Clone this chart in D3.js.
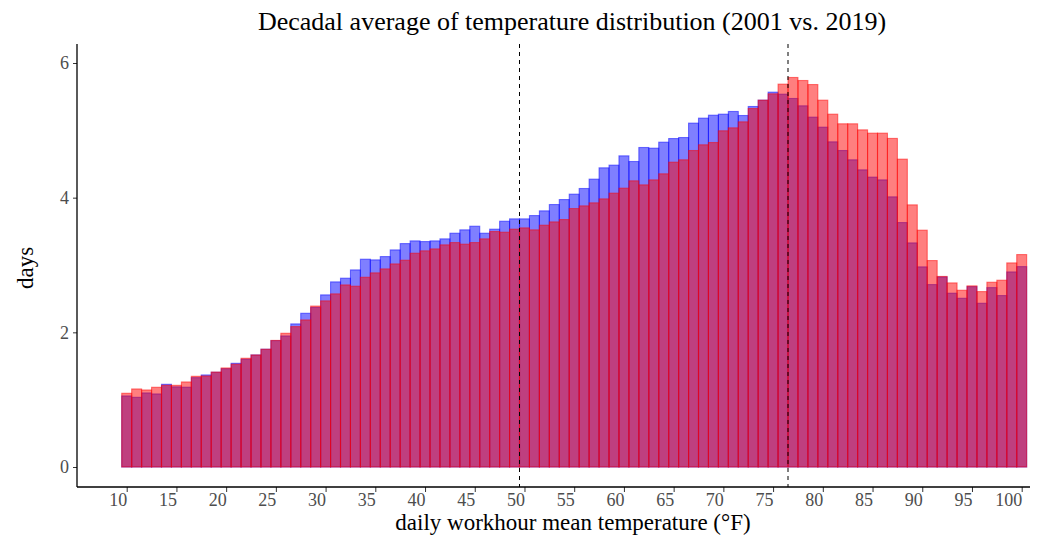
<!DOCTYPE html>
<html>
<head>
<meta charset="utf-8">
<script src="https://cdn.jsdelivr.net/npm/d3@7"></script>
<style>
  body { margin: 0; background: #fff; }
  text { font-family: "Liberation Serif", "DejaVu Serif", serif; }
</style>
</head>
<body>
<script>
// bins (daily workhour mean temperature, °F)
const temps = d3.range(10, 101);

// decadal average days per bin
const days2001 = [1.055, 1.035, 1.10, 1.085, 1.228, 1.19, 1.185, 1.327, 1.367, 1.407,
  1.46, 1.54, 1.60, 1.664, 1.749, 1.877, 1.946, 2.125, 2.283, 2.37,
  2.556, 2.749, 2.804, 2.927, 3.086, 3.076, 3.125, 3.224, 3.318, 3.358,
  3.348, 3.358, 3.388, 3.472, 3.522, 3.576, 3.472, 3.532, 3.65, 3.685,
  3.685, 3.734, 3.804, 3.898, 3.972, 4.052, 4.136, 4.275, 4.443, 4.483,
  4.621, 4.537, 4.745, 4.735, 4.824, 4.878, 4.893, 5.107, 5.181, 5.225,
  5.24, 5.28, 5.22, 5.354, 5.448, 5.567, 5.537, 5.473, 5.364, 5.196,
  5.047, 4.829, 4.70, 4.562, 4.413, 4.305, 4.264, 4.012, 3.63, 3.328,
  2.972, 2.709, 2.823, 2.581, 2.506, 2.679, 2.432, 2.664, 2.546, 2.897,
  2.976];

const days2019 = [1.095, 1.159, 1.144, 1.184, 1.213, 1.213, 1.263, 1.347, 1.352, 1.41,
  1.471, 1.526, 1.615, 1.664, 1.749, 1.88, 1.986, 2.085, 2.184, 2.39,
  2.467, 2.571, 2.704, 2.685, 2.818, 2.883, 2.942, 3.016, 3.071, 3.175,
  3.21, 3.239, 3.299, 3.333, 3.309, 3.333, 3.388, 3.497, 3.487, 3.532,
  3.551, 3.522, 3.591, 3.64, 3.675, 3.838, 3.878, 3.923, 3.982, 4.067,
  4.141, 4.25, 4.19, 4.264, 4.354, 4.527, 4.562, 4.70, 4.785, 4.819,
  4.993, 5.037, 5.126, 5.324, 5.448, 5.542, 5.686, 5.785, 5.74, 5.68,
  5.448, 5.24, 5.097, 5.097, 5.007, 4.958, 4.958, 4.88, 4.572, 3.893,
  3.517, 3.066, 2.83, 2.734, 2.625, 2.69, 2.605, 2.744, 2.774, 3.031,
  3.155];

const xTicks = d3.range(10, 101, 5);
const yTicks = [0, 2, 4, 6];
const vlines = [49.5, 76.5];

const W = 1060, H = 535;
const panel = {left: 77, right: 1030, top: 44, bottom: 487};

const svg = d3.select("body").append("svg")
    .attr("width", W)
    .attr("height", H);

// scales
const x = d3.scaleLinear().domain([10, 100]).range([126.7, 1021.7]);
const y = d3.scaleLinear().domain([0, 6]).range([467, 63]);
const bw = x(1) - x(0);

// bars: 2001 first, 2019 on top
const series = [
  {name: "2001", values: days2001, color: "#0000ff"},
  {name: "2019", values: days2019, color: "#ff0000"}
];

series.forEach(function(s) {
    svg.append("g")
        .selectAll("rect")
        .data(temps)
        .enter()
        .append("rect")
        .attr("x", function(d) { return x(d) - bw / 2; })
        .attr("width", bw)
        .attr("y", function(d, i) { return y(s.values[i]); })
        .attr("height", function(d, i) { return y(0) - y(s.values[i]); })
        .attr("fill", s.color)
        .attr("fill-opacity", 0.5)
        .attr("stroke", s.color)
        .attr("stroke-opacity", 0.5)
        .attr("stroke-width", 1.1);
});

// dashed reference lines
svg.selectAll(".vline")
    .data(vlines)
    .enter()
    .append("line")
    .attr("x1", function(d) { return x(d); })
    .attr("x2", function(d) { return x(d); })
    .attr("y1", panel.top)
    .attr("y2", panel.bottom)
    .attr("stroke", "#000")
    .attr("stroke-width", 1)
    .attr("stroke-dasharray", "4,4");

// x axis
const xAxis = svg.append("g")
    .attr("transform", "translate(0," + panel.bottom + ")")
    .call(d3.axisBottom(x).tickValues(xTicks).tickSize(5).tickSizeOuter(0));
xAxis.select(".domain").remove();
xAxis.append("line")
    .attr("x1", panel.left).attr("x2", panel.right)
    .attr("stroke", "#000").attr("stroke-width", 1.3);
xAxis.selectAll(".tick line").attr("stroke", "#333");
xAxis.selectAll(".tick text")
    .attr("text-anchor", "end")
    .attr("x", 0)
    .attr("dy", "0.71em")
    .attr("y", 6)
    .attr("fill", "#4d4d4d")
    .style("font-size", "18px")
    .style("font-family", "Liberation Serif, serif");

// y axis
const yAxis = svg.append("g")
    .attr("transform", "translate(" + panel.left + ",0)")
    .call(d3.axisLeft(y).tickValues(yTicks).tickFormat(d3.format("d")).tickSize(4).tickSizeOuter(0));
yAxis.select(".domain").remove();
yAxis.append("line")
    .attr("y1", panel.top).attr("y2", panel.bottom)
    .attr("stroke", "#000").attr("stroke-width", 1.3);
yAxis.selectAll(".tick line").attr("stroke", "#333");
yAxis.selectAll(".tick text")
    .attr("x", -8)
    .attr("fill", "#4d4d4d")
    .style("font-size", "18px")
    .style("font-family", "Liberation Serif, serif");

// title
svg.append("text")
    .attr("x", 572)
    .attr("y", 30)
    .attr("text-anchor", "middle")
    .style("font-size", "26px")
    .text("Decadal average of temperature distribution (2001 vs. 2019)");

// axis titles
svg.append("text")
    .attr("x", 573)
    .attr("y", 530)
    .attr("text-anchor", "middle")
    .style("font-size", "23px")
    .text("daily workhour mean temperature (°F)");

svg.append("text")
    .attr("transform", "translate(33,268) rotate(-90)")
    .attr("text-anchor", "middle")
    .style("font-size", "23px")
    .text("days");
</script>
</body>
</html>
